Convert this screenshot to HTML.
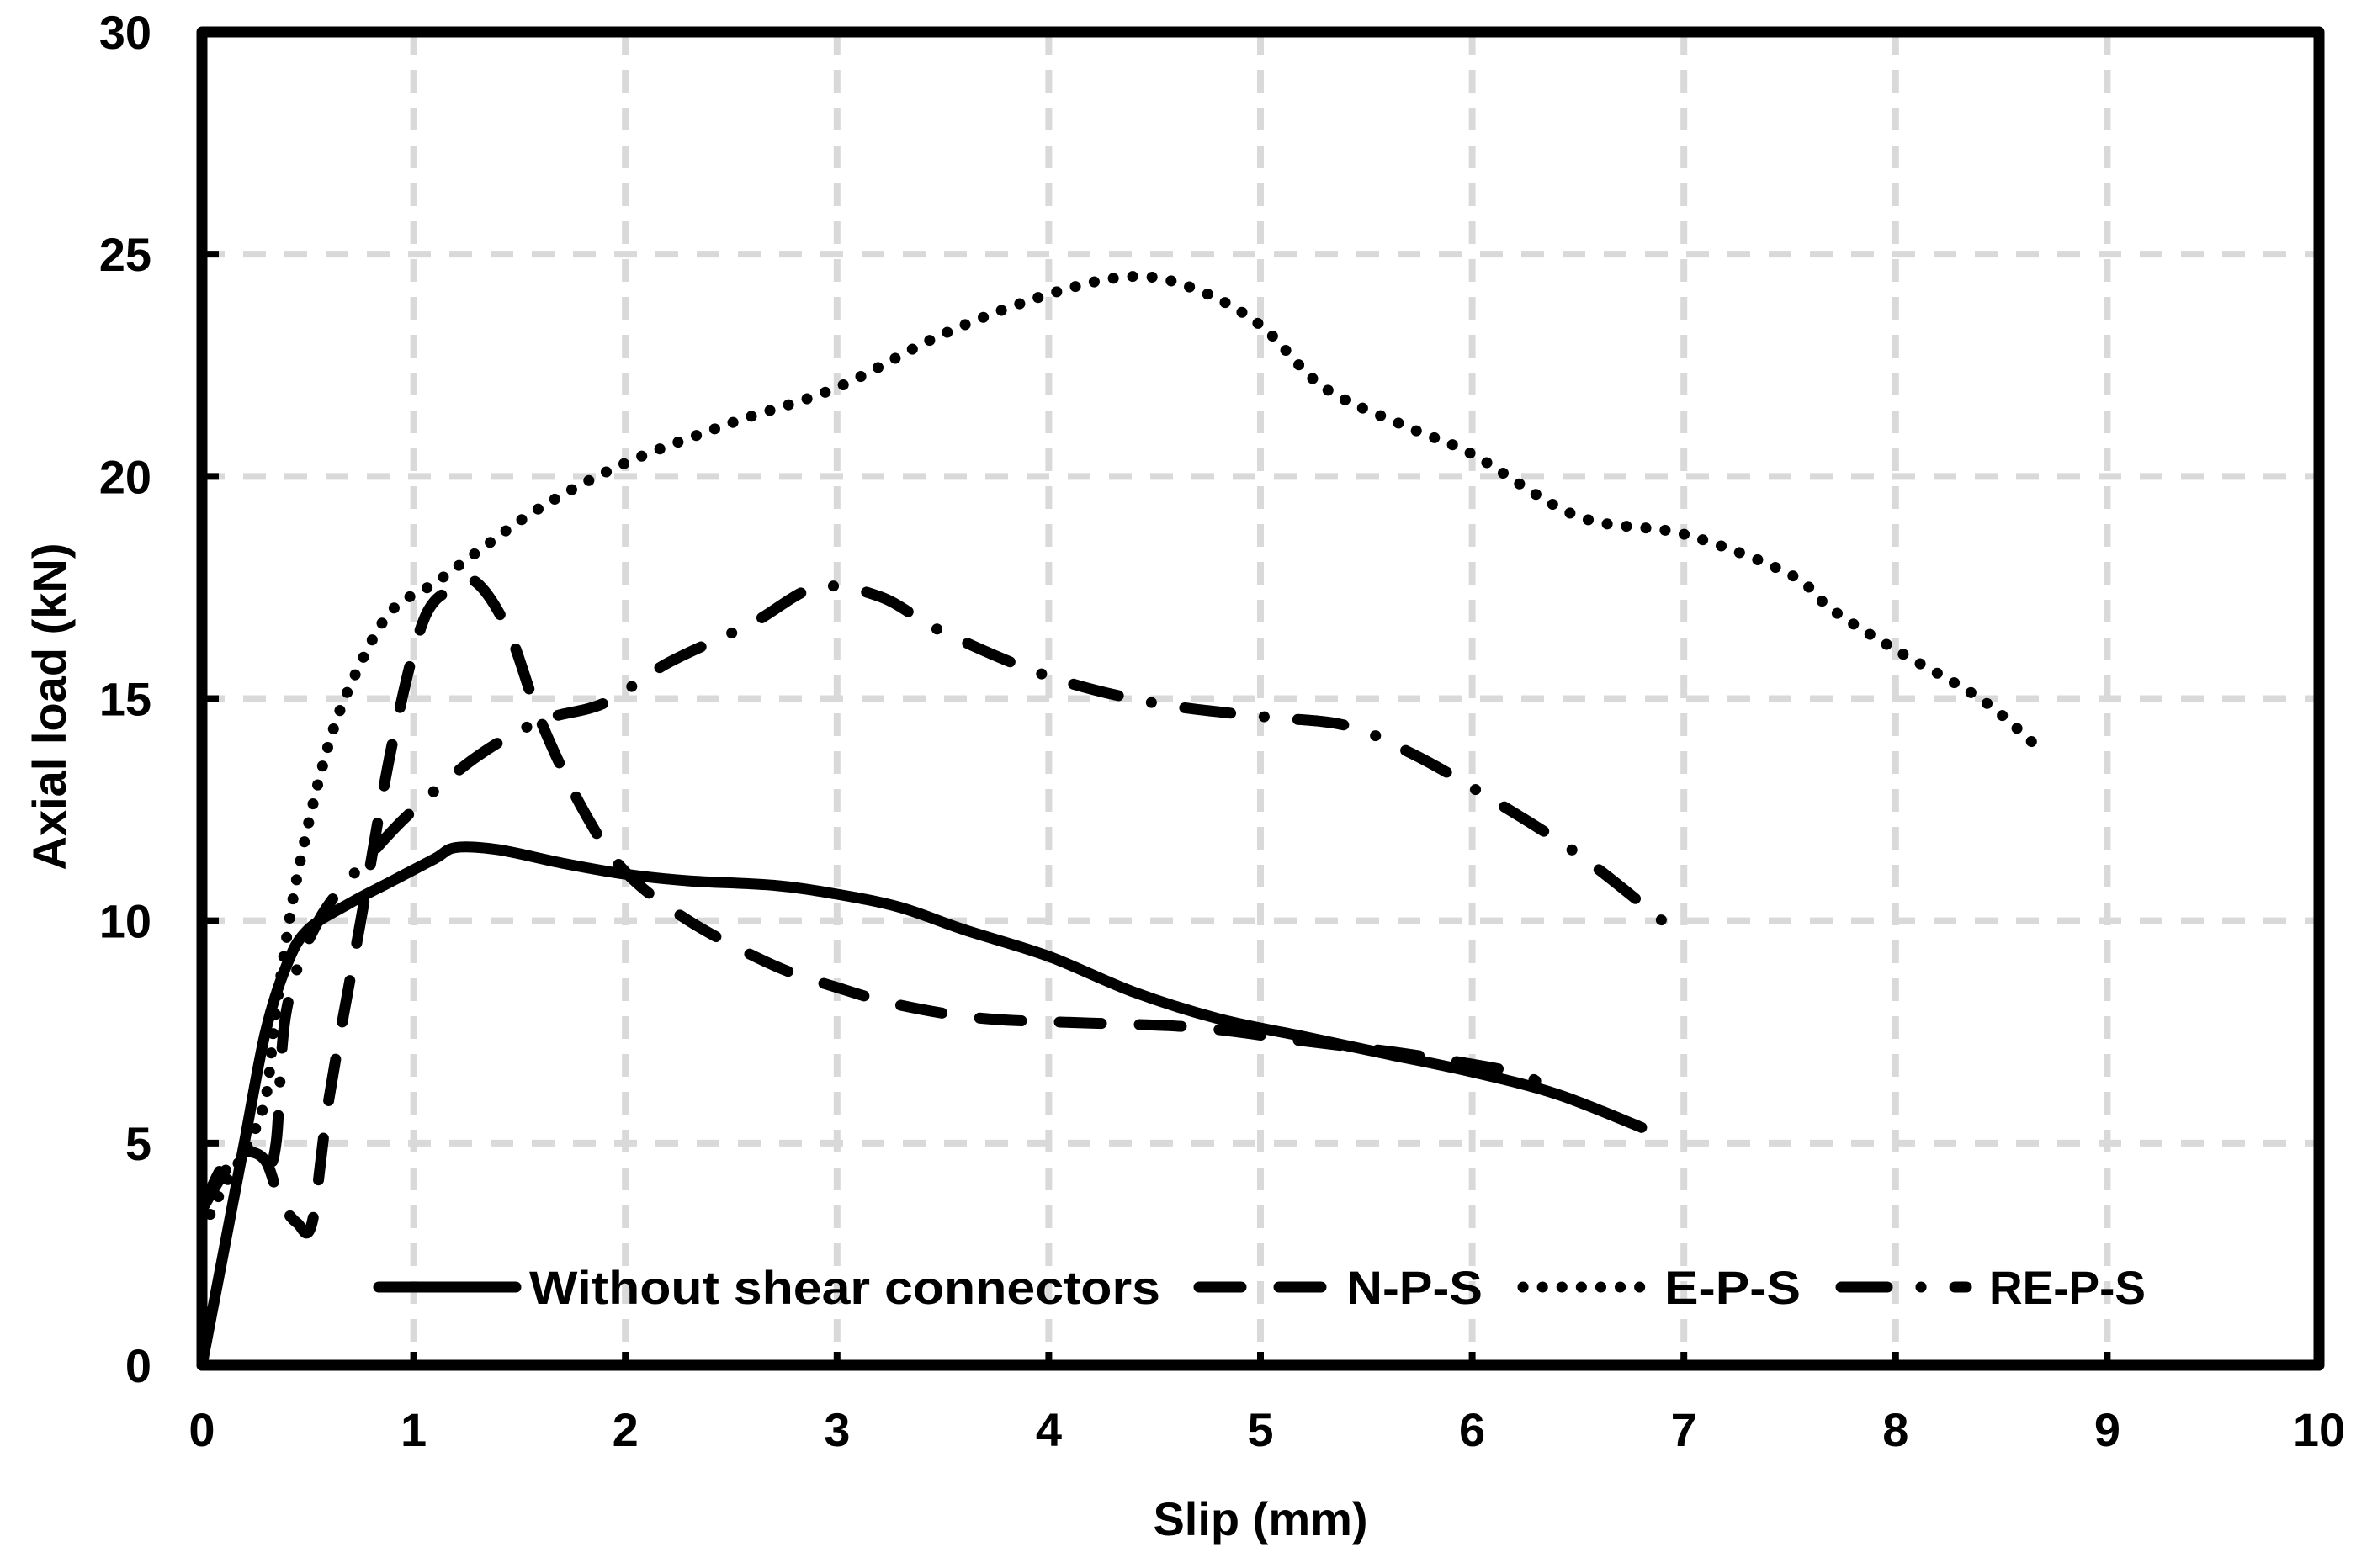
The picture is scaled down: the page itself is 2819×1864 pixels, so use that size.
<!DOCTYPE html>
<html><head><meta charset="utf-8"><style>
html,body{margin:0;padding:0;background:#fff;}
svg{display:block;font-family:"Liberation Sans",sans-serif;font-weight:bold;}
</style></head><body>
<svg id="chart" width="2819" height="1864" viewBox="0 0 2819 1864" xmlns="http://www.w3.org/2000/svg">
<g id="grid"></g>
<g id="series"></g>
<rect x="240" y="38" width="2516" height="1585" fill="none" stroke="#000" stroke-width="13" stroke-linejoin="round"/>
<g id="ticks"></g>
<text x="1498" y="1825" font-size="56" text-anchor="middle">Slip (mm)</text>
<text transform="translate(78,840) rotate(-90)" font-size="56" text-anchor="middle">Axial load (kN)</text>
<g id="legend">
<line x1="450" y1="1530" x2="613" y2="1530" stroke="#000" stroke-width="13" stroke-linecap="round"/>
<text x="629" y="1550" font-size="56" textLength="750" lengthAdjust="spacingAndGlyphs">Without shear connectors</text>
<line x1="1425" y1="1530" x2="1580" y2="1530" stroke="#000" stroke-width="13" stroke-linecap="round" stroke-dasharray="50 45"/>
<text x="1600" y="1550" font-size="56" textLength="162" lengthAdjust="spacingAndGlyphs">N-P-S</text>
<line x1="1810" y1="1530" x2="1960" y2="1530" stroke="#000" stroke-width="13" stroke-linecap="round" stroke-dasharray="0.1 23"/>
<text x="1978" y="1550" font-size="56" textLength="162" lengthAdjust="spacingAndGlyphs">E-P-S</text>
<line x1="2188" y1="1530" x2="2337" y2="1530" stroke="#000" stroke-width="13" stroke-linecap="round" stroke-dasharray="55 40 0.1 40"/>
<text x="2364" y="1550" font-size="56" textLength="186" lengthAdjust="spacingAndGlyphs">RE-P-S</text>
</g>
</svg>
<script>
const xTicks=[0,1,2,3,4,5,6,7,8,9,10];
const yTicks=[0,5,10,15,20,25,30];
const woX=[0,0.1,0.2,0.3,0.4,0.5,0.7,0.9,1.1,1.2,1.4,1.7,2,2.3,2.7,3,3.3,3.6,4,4.4,4.8,5.2,5.6,6,6.4,6.8];
const woY=[0,2.5,5,7.5,9,9.8,10.4,10.9,11.4,11.65,11.6,11.3,11.05,10.9,10.8,10.6,10.3,9.8,9.2,8.4,7.8,7.4,7.0,6.6,6.1,5.35];
const npsX=[0,0.1,0.2,0.3,0.37,0.45,0.52,0.6,0.75,0.9,1.05,1.2,1.3,1.45,1.6,1.8,2.0,2.3,2.7,3,3.3,3.7,4.2,4.7,5.2,5.7,6.2,6.3];
const npsY=[3.5,4.5,4.8,4.6,3.7,3.2,3.2,6,10,14,16.8,17.5,17.6,16.5,14.5,12.5,11.1,10,9,8.5,8.1,7.8,7.7,7.6,7.3,7.0,6.6,6.4];
const epsX=[0,0.1,0.2,0.3,0.35,0.45,0.6,0.75,0.9,1.1,1.3,1.6,2,2.5,3,3.5,4,4.4,4.7,5,5.3,5.7,6,6.5,7,7.5,7.7,8,8.4,8.65];
const epsY=[3,4,4.8,6,8,11,14,15.8,17,17.6,18.3,19.3,20.3,21.2,22,23.2,24.1,24.5,24.2,23.4,22,21.1,20.5,19.1,18.7,17.8,17,16.1,15,14];
const repsX=[0,0.1,0.2,0.3,0.35,0.4,0.55,0.8,1,1.3,1.6,1.9,2.2,2.6,2.9,3.2,3.5,4,4.5,5,5.4,5.7,6,6.5,6.95];
const repsY=[3.5,4.3,4.9,4.5,5,8,10,11.5,12.5,13.7,14.5,14.9,15.8,16.7,17.5,17.3,16.5,15.5,14.9,14.6,14.4,13.8,13,11.5,9.8];
const X0=240,X1=2756,Y0=1623,Y1=38;
function sx(v){return X0+(X1-X0)*v/10;}
function sy(v){return Y0-(Y0-Y1)*v/30;}
const NS='http://www.w3.org/2000/svg';
const grid=document.getElementById('grid'),ticks=document.getElementById('ticks'),ser=document.getElementById('series');
function mk(tag,attrs,parent){const e=document.createElementNS(NS,tag);for(const k in attrs)e.setAttribute(k,attrs[k]);parent.appendChild(e);return e;}
xTicks.forEach(v=>{
  if(v>0&&v<10){
    const g=mk('line',{x1:sx(v),y1:Y1,x2:sx(v),y2:Y0,stroke:'#d9d9d9','stroke-width':8,'stroke-dasharray':'27 18'},grid);
    
    
    const t=mk('line',{x1:sx(v),y1:Y0,x2:sx(v),y2:Y0-16,stroke:'#000','stroke-width':8},ticks);
    
    
  }
  const l=mk('text',{x:sx(v),y:1719,'font-size':56,'text-anchor':'middle'},ticks);
  l.textContent=v;
  
  
});
yTicks.forEach(v=>{
  if(v>0&&v<30){
    const g=mk('line',{x1:X0,y1:sy(v),x2:X1,y2:sy(v),stroke:'#d9d9d9','stroke-width':8,'stroke-dasharray':'27 22'},grid);
    
    
    const t=mk('line',{x1:X0,y1:sy(v),x2:X0+20,y2:sy(v),stroke:'#000','stroke-width':8},ticks);
    
    
  }
  const l=mk('text',{x:180,y:sy(v)+20,'font-size':56,'text-anchor':'end'},ticks);
  l.textContent=v;
  
  
});
function line(xs,ys,dash,name){
  const P=xs.map((x,i)=>[sx(x),sy(ys[i])]);
  let d='M'+P[0][0].toFixed(1)+' '+P[0][1].toFixed(1);
  for(let i=0;i<P.length-1;i++){
    const p0=P[i-1]||P[i],p1=P[i],p2=P[i+1],p3=P[i+2]||P[i+1];
    const c1=[p1[0]+(p2[0]-p0[0])/6,p1[1]+(p2[1]-p0[1])/6];
    const c2=[p2[0]-(p3[0]-p1[0])/6,p2[1]-(p3[1]-p1[1])/6];
    d+=' C'+c1[0].toFixed(1)+' '+c1[1].toFixed(1)+' '+c2[0].toFixed(1)+' '+c2[1].toFixed(1)+' '+p2[0].toFixed(1)+' '+p2[1].toFixed(1);
  }
  const p=mk('path',{d:d,fill:'none',stroke:'#000','stroke-width':13,'stroke-linecap':'round','stroke-linejoin':'round'},ser);
  if(dash)p.setAttribute('stroke-dasharray',dash);
  
  
}
line(npsX,npsY,'50 45','series-nps');
line(epsX,epsY,'0.1 23','series-eps');
line(repsX,repsY,'55 40 0.1 40','series-reps');
line(woX,woY,null,'series-without-shear-connectors');
</script>
</body></html>
